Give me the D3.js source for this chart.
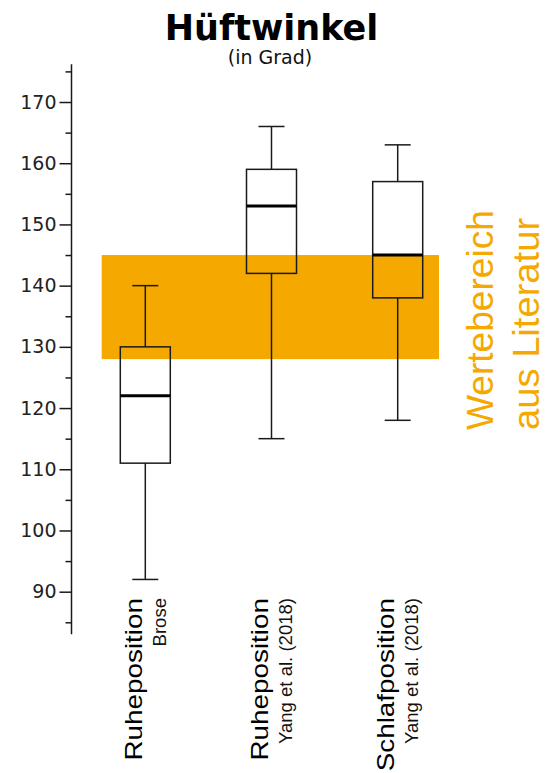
<!DOCTYPE html>
<html><head><meta charset="utf-8">
<script src="https://cdn.jsdelivr.net/npm/d3@7/dist/d3.min.js"></script>
<style>html,body{margin:0;padding:0;background:#fff;}svg{display:block;}</style>
</head><body>
<svg id="c" width="545" height="773"></svg>
<script>
// ---- data ----
const categories = ["Ruheposition|Brose", "Ruheposition|Yang et al. (2018)", "Schlafposition|Yang et al. (2018)"];
const mainLabels = ["Ruheposition", "Ruheposition", "Schlafposition"];
const subLabels = ["Brose", "Yang et al. (2018)", "Yang et al. (2018)"];
const whiskerLow = [92, 115, 118];
const q1 = [111, 142, 138];
const median = [122, 153, 145];
const q3 = [130, 159, 157];
const whiskerHigh = [140, 166, 163];
const literatureRange = [128, 145];
const majorTicks = [90, 100, 110, 120, 130, 140, 150, 160, 170];
const minorTicks = [85, 95, 105, 115, 125, 135, 145, 155, 165, 175];
const title = "Hüftwinkel";
const subtitle = "(in Grad)";
const bandLabel = ["Wertebereich", "aus Literatur"];

// ---- layout ----
const svg = d3.select("#c");
const orange = "#f5a900";
const ink = "#1a1a1a";
const axisX = 71.5;
const y = d3.scaleLinear().domain([83.04, 176.16]).range([634.3, 64.3]);
const x = d3.scalePoint().domain(categories).range([145.3, 397.7]);
const boxW = 50, capW = 26;

const data = categories.map((c, i) => ({
  c, lo: whiskerLow[i], q1: q1[i], med: median[i], q3: q3[i], hi: whiskerHigh[i],
  main: mainLabels[i], sub: subLabels[i]
}));

// title
svg.append("text").attr("x", 271.5).attr("y", 39.5).attr("text-anchor", "middle")
  .attr("font-family", "DejaVu Sans").attr("font-weight", "bold").attr("font-size", 35)
  .attr("fill", "#000").text(title);
svg.append("text").attr("x", 270).attr("y", 64).attr("text-anchor", "middle")
  .attr("font-family", "DejaVu Sans").attr("font-size", 19)
  .attr("fill", "#111").text(subtitle);

// band
svg.append("rect").attr("x", 101.7).attr("width", 439 - 101.7)
  .attr("y", y(literatureRange[1])).attr("height", y(literatureRange[0]) - y(literatureRange[1]))
  .attr("fill", orange);

// axis
const axisG = svg.append("g").attr("transform", `translate(${axisX},0)`);
axisG.call(d3.axisLeft(y).tickValues(majorTicks).tickSize(12).tickPadding(3).tickSizeOuter(0))
  .call(g => g.select(".domain").remove());
axisG.selectAll(".tick line").attr("stroke", ink).attr("stroke-width", 1.5);
axisG.selectAll(".tick text").attr("font-family", "DejaVu Sans").attr("font-size", 19).attr("fill", "#222");
const minorG = svg.append("g").attr("transform", `translate(${axisX},0)`);
minorG.call(d3.axisLeft(y).tickValues(minorTicks).tickSize(6).tickFormat("").tickSizeOuter(0))
  .call(g => g.select(".domain").remove());
minorG.selectAll(".tick line").attr("stroke", ink).attr("stroke-width", 1.5);
svg.append("line").attr("x1", axisX).attr("x2", axisX)
  .attr("y1", y.range()[1]).attr("y2", y.range()[0])
  .attr("stroke", ink).attr("stroke-width", 1.5);

// boxes
const g = svg.append("g").selectAll("g").data(data).join("g");
g.append("line").attr("x1", d => x(d.c)).attr("x2", d => x(d.c))
  .attr("y1", d => y(d.hi)).attr("y2", d => y(d.q3)).attr("stroke", ink).attr("stroke-width", 1.5);
g.append("line").attr("x1", d => x(d.c)).attr("x2", d => x(d.c))
  .attr("y1", d => y(d.q1)).attr("y2", d => y(d.lo)).attr("stroke", ink).attr("stroke-width", 1.5);
g.append("line").attr("x1", d => x(d.c) - capW / 2).attr("x2", d => x(d.c) + capW / 2)
  .attr("y1", d => y(d.hi)).attr("y2", d => y(d.hi)).attr("stroke", ink).attr("stroke-width", 1.5);
g.append("line").attr("x1", d => x(d.c) - capW / 2).attr("x2", d => x(d.c) + capW / 2)
  .attr("y1", d => y(d.lo)).attr("y2", d => y(d.lo)).attr("stroke", ink).attr("stroke-width", 1.5);
g.append("rect").attr("x", d => x(d.c) - boxW / 2).attr("width", boxW)
  .attr("y", d => y(d.q3)).attr("height", d => y(d.q1) - y(d.q3))
  .attr("fill", "none").attr("stroke", ink).attr("stroke-width", 1.5);
g.append("line").attr("x1", d => x(d.c) - boxW / 2).attr("x2", d => x(d.c) + boxW / 2)
  .attr("y1", d => y(d.med)).attr("y2", d => y(d.med)).attr("stroke", "#000").attr("stroke-width", 3);

// category labels (rotated)
function stretch(sel, f) {
  sel.each(function () {
    const len = this.getComputedTextLength();
    d3.select(this).attr("textLength", len * f).attr("lengthAdjust", "spacingAndGlyphs");
  });
}
const labTop = 598;
g.append("text")
  .attr("transform", d => `translate(${x(d.c) - 3.5},${labTop}) rotate(-90)`)
  .attr("text-anchor", "end").attr("font-family", "Liberation Sans").attr("font-size", 24)
  .attr("fill", "#000").text(d => d.main).call(stretch, 1.16);
g.append("text")
  .attr("transform", d => `translate(${x(d.c) + 20.5},${labTop}) rotate(-90)`)
  .attr("text-anchor", "end").attr("font-family", "Liberation Sans").attr("font-size", 18)
  .attr("fill", "#111").text(d => d.sub).call(stretch, 1.03);

// band label
const bl = svg.append("g");
bl.append("text").attr("transform", "translate(493.3,430) rotate(-90)")
  .attr("font-family", "Liberation Sans").attr("font-size", 36).attr("fill", orange)
  .text(bandLabel[0]).call(stretch, 1.03);
bl.append("text").attr("transform", "translate(538.5,430) rotate(-90)")
  .attr("font-family", "Liberation Sans").attr("font-size", 36).attr("fill", orange)
  .text(bandLabel[1]).call(stretch, 1.06);
</script>
</body></html>
